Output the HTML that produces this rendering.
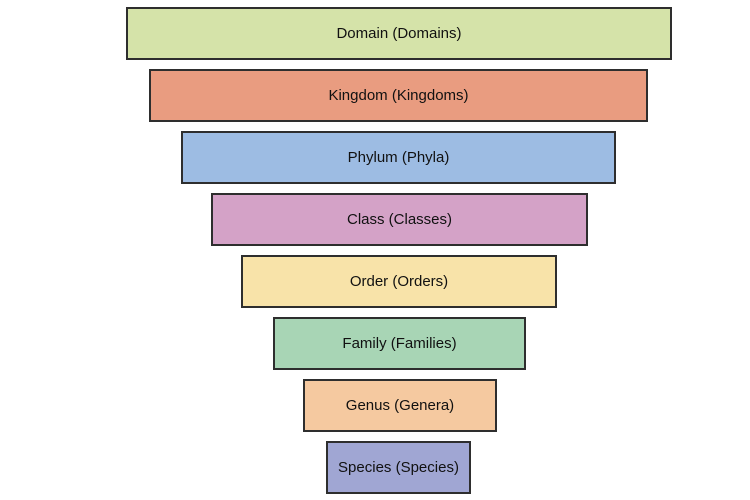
<!DOCTYPE html>
<html><head><style>
html,body{margin:0;padding:0;background:#fff;width:750px;height:500px;overflow:hidden}
.b{position:absolute;box-sizing:border-box;border:2px solid #2e2e2e;height:53px;display:flex;align-items:center;justify-content:center;font-family:"Liberation Sans",sans-serif;font-size:15px;color:#111}
</style></head><body>
<div class="b" style="left:126px;top:7px;width:546px;background:#d5e3a9">Domain (Domains)</div>
<div class="b" style="left:149px;top:69px;width:499px;background:#e99c80">Kingdom (Kingdoms)</div>
<div class="b" style="left:181px;top:131px;width:435px;background:#9dbce3">Phylum (Phyla)</div>
<div class="b" style="left:211px;top:193px;width:377px;background:#d4a2c7">Class (Classes)</div>
<div class="b" style="left:241px;top:255px;width:316px;background:#f8e3a9">Order (Orders)</div>
<div class="b" style="left:273px;top:317px;width:253px;background:#a8d5b5">Family (Families)</div>
<div class="b" style="left:303px;top:379px;width:194px;background:#f5c9a0">Genus (Genera)</div>
<div class="b" style="left:326px;top:441px;width:145px;background:#a0a6d3">Species (Species)</div>
</body></html>
